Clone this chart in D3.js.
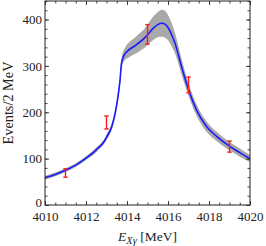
<!DOCTYPE html>
<html>
<head>
<meta charset="utf-8">
<script src="https://cdn.jsdelivr.net/npm/d3@7"></script>
<style>
  html, body { margin: 0; padding: 0; background: #fff; }
  svg { display: block; font-family: "Liberation Serif", "Times New Roman", serif; }
</style>
</head>
<body>
<svg id="chart" width="266" height="246"></svg>
<script>
// line shape
const energy = [4010, 4010.5, 4011, 4011.5, 4012, 4012.5, 4012.9, 4013, 4013.25, 4013.45,
  4013.58, 4013.66, 4013.71, 4013.75, 4013.9, 4014, 4014.4, 4014.9, 4015, 4015.25,
  4015.5, 4015.7, 4015.85, 4016, 4016.2, 4016.35, 4016.67, 4017, 4017.4, 4017.9,
  4018.4, 4019, 4019.5, 4020];
const central = [59, 66, 75, 86, 101, 119, 138, 146, 168, 204,
  240, 269, 297, 310, 326, 331, 344, 362, 367, 380,
  389, 392, 390, 383, 365, 348, 297, 249, 204, 168,
  147, 127, 113, 100];
const bandWidth = [4, 4, 4, 4, 4, 5, 5, 6, 7, 8,
  8, 9, 10, 10, 13, 15, 18, 21, 22, 25,
  27, 29, 29, 27, 25, 22, 17, 14, 12, 11,
  10, 9, 9, 8];

// data points with errors
const dataE = [4011, 4013, 4015, 4017, 4019];
const dataN = [69, 178, 368, 259, 126];
const dataErr = [9, 14, 21, 17, 12];

const xMajor = [4010, 4012, 4014, 4016, 4018, 4020];
const yMajor = [0, 100, 200, 300, 400];

const svg = d3.select('#chart');
const margin = { left: 45, right: 16, top: 1, bottom: 41 };
const W = 266, H = 246;

const x = d3.scaleLinear().domain([4010, 4020]).range([margin.left, W - margin.right]);
const y = d3.scaleLinear().domain([0, 440]).range([H - margin.bottom, margin.top]);

const band = energy.map((e, i) => ({ e, lo: central[i] - bandWidth[i], hi: central[i] + bandWidth[i] }));
const line = energy.map((e, i) => ({ e, v: central[i] }));

svg.append('defs').append('clipPath').attr('id', 'clip')
  .append('rect')
  .attr('x', x(4010)).attr('y', y(440))
  .attr('width', x(4020) - x(4010)).attr('height', y(0) - y(440));

const plot = svg.append('g').attr('clip-path', 'url(#clip)');

plot.append('path')
  .datum(band)
  .attr('fill', '#a9a9a9')
  .attr('d', d3.area().curve(d3.curveMonotoneX)
    .x(d => x(d.e)).y0(d => y(d.lo)).y1(d => y(d.hi)));

plot.append('path')
  .datum(line)
  .attr('fill', 'none')
  .attr('stroke', '#1a1aff')
  .attr('stroke-width', 1.6)
  .attr('d', d3.line().curve(d3.curveMonotoneX).x(d => x(d.e)).y(d => y(d.v)));

// error bars
const bars = svg.append('g').attr('stroke', '#ff1a1a').attr('stroke-width', 1.4);
dataE.forEach((e, i) => {
  const cx = x(e);
  const y0 = y(dataN[i] - dataErr[i]), y1 = y(dataN[i] + dataErr[i]);
  bars.append('line').attr('x1', cx).attr('x2', cx).attr('y1', y0).attr('y2', y1);
  bars.append('line').attr('x1', cx - 2.2).attr('x2', cx + 2.2).attr('y1', y0).attr('y2', y0);
  bars.append('line').attr('x1', cx - 2.2).attr('x2', cx + 2.2).attr('y1', y1).attr('y2', y1);
});

// axes, ticks inside on all four sides
const xMinor = d3.range(4010, 4020.01, 0.5);
const yMinor = d3.range(0, 441, 20);

const styleAxis = g => {
  g.select('.domain').remove();
  g.selectAll('line').attr('stroke', '#333').attr('stroke-width', 0.9);
  g.selectAll('text').attr('fill', '#222').attr('font-size', 13).attr('font-family', '"Liberation Serif", serif');
};

svg.append('g').attr('transform', `translate(0,${y(0)})`)
  .call(d3.axisBottom(x).tickValues(xMinor).tickSize(-2.5).tickFormat(''))
  .call(styleAxis);
svg.append('g').attr('transform', `translate(0,${y(0)})`)
  .call(d3.axisBottom(x).tickValues(xMajor).tickSize(-4).tickPadding(7).tickFormat(d3.format('d')))
  .call(styleAxis);
svg.append('g').attr('transform', `translate(0,${y(440)})`)
  .call(d3.axisTop(x).tickValues(xMinor).tickSize(-2.5).tickFormat(''))
  .call(styleAxis);
svg.append('g').attr('transform', `translate(0,${y(440)})`)
  .call(d3.axisTop(x).tickValues(xMajor).tickSize(-4).tickFormat(''))
  .call(styleAxis);

svg.append('g').attr('transform', `translate(${x(4010)},0)`)
  .call(d3.axisLeft(y).tickValues(yMinor).tickSize(-2.5).tickFormat(''))
  .call(styleAxis);
svg.append('g').attr('transform', `translate(${x(4010)},0)`)
  .call(d3.axisLeft(y).tickValues(yMajor).tickSize(-4).tickPadding(3).tickFormat(d3.format('d')))
  .call(styleAxis)
  .call(g => g.selectAll('text').filter(d => d === 0).attr('dy', '0.12em'));
svg.append('g').attr('transform', `translate(${x(4020)},0)`)
  .call(d3.axisRight(y).tickValues(yMinor).tickSize(-2.5).tickFormat(''))
  .call(styleAxis);
svg.append('g').attr('transform', `translate(${x(4020)},0)`)
  .call(d3.axisRight(y).tickValues(yMajor).tickSize(-4).tickFormat(''))
  .call(styleAxis);

// frame
svg.append('rect')
  .attr('x', x(4010)).attr('y', y(440))
  .attr('width', x(4020) - x(4010)).attr('height', y(0) - y(440))
  .attr('fill', 'none').attr('stroke', '#222').attr('stroke-width', 1);

// axis titles
const xt = svg.append('text')
  .attr('x', (x(4010) + x(4020)) / 2).attr('y', 241)
  .attr('text-anchor', 'middle').attr('font-size', 13.5).attr('fill', '#222');
xt.append('tspan').attr('font-style', 'italic').text('E');
xt.append('tspan').attr('font-style', 'italic').attr('font-size', 10.5).attr('dy', 3).text('Xγ');
xt.append('tspan').attr('dy', -3).text('  [MeV]');

svg.append('text')
  .attr('transform', `translate(13,${(y(0) + y(440)) / 2}) rotate(-90)`)
  .attr('text-anchor', 'middle').attr('font-size', 14.3).attr('fill', '#222')
  .text('Events/2 MeV');
</script>
</body>
</html>
